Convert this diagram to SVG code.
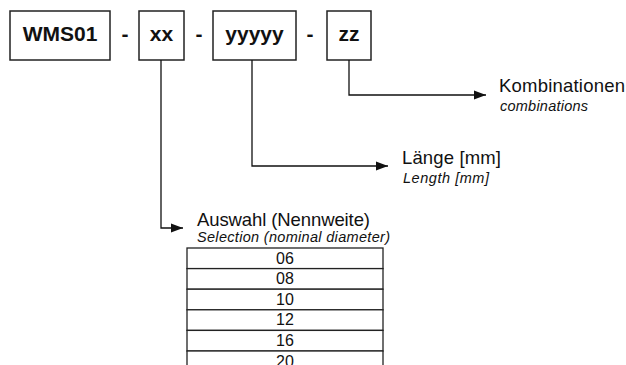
<svg xmlns="http://www.w3.org/2000/svg" width="626" height="365" viewBox="0 0 626 365">
  <defs>
    <marker id="arrow" markerWidth="12" markerHeight="10" refX="12" refY="5" orient="auto" markerUnits="userSpaceOnUse">
      <path d="M0,0.5 L12,5 L0,9.5 Z" fill="#111"/>
    </marker>
    <style>
      .box { fill: #fff; stroke: #222; stroke-width: 1.5; }
      .code { font-family: "Liberation Sans", Arial, sans-serif; font-weight: bold; font-size: 21px; fill: #111; text-anchor: middle; }
      .lbl { font-family: "Liberation Sans", Arial, sans-serif; font-size: 18.5px; fill: #111; }
      .sub { font-family: "Liberation Sans", Arial, sans-serif; font-size: 14.5px; font-style: italic; fill: #111; }
      .conn { fill: none; stroke: #111; stroke-width: 1.3; }
      .cell { fill: #fff; stroke: #222; stroke-width: 1.3; }
      .num { font-family: "Liberation Sans", Arial, sans-serif; font-size: 16px; fill: #111; text-anchor: middle; }
    </style>
  </defs>
  <rect width="626" height="365" fill="#fff"/>

  <g id="node-wms01">
    <rect class="box" x="10" y="11" width="100" height="49"/>
    <text class="code" x="60" y="41">WMS01</text>
  </g>
  <g id="dash1"><text class="code" x="125" y="41">-</text></g>
  <g id="node-xx">
    <rect class="box" x="139" y="11" width="45" height="49"/>
    <text class="code" x="161.5" y="41">xx</text>
  </g>
  <g id="dash2"><text class="code" x="199" y="41">-</text></g>
  <g id="node-yyyyy">
    <rect class="box" x="213" y="11" width="83" height="49"/>
    <text class="code" x="254.5" y="41">yyyyy</text>
  </g>
  <g id="dash3"><text class="code" x="310" y="41">-</text></g>
  <g id="node-zz">
    <rect class="box" x="327" y="11" width="44" height="49"/>
    <text class="code" x="349" y="41">zz</text>
  </g>

  <g id="connectors">
    <path class="conn" d="M349,60 V95 H486" marker-end="url(#arrow)"/>
    <path class="conn" d="M252,60 V166 H388" marker-end="url(#arrow)"/>
    <path class="conn" d="M161,60 V228 H183" marker-end="url(#arrow)"/>
  </g>

  <g id="node-kombinationen">
    <text class="lbl" x="499" y="92" textLength="126" lengthAdjust="spacing">Kombinationen</text>
    <text class="sub" x="500" y="111" textLength="88" lengthAdjust="spacing">combinations</text>
  </g>
  <g id="node-laenge">
    <text class="lbl" x="402" y="164" textLength="99" lengthAdjust="spacing">Länge [mm]</text>
    <text class="sub" x="403" y="183" textLength="86" lengthAdjust="spacing">Length [mm]</text>
  </g>
  <g id="node-auswahl">
    <text class="lbl" x="197" y="226" textLength="173" lengthAdjust="spacing">Auswahl (Nennweite)</text>
    <text class="sub" x="197" y="242" textLength="193" lengthAdjust="spacing">Selection (nominal diameter)</text>
    <rect class="cell" x="187" y="248" width="196" height="20.6"/>
    <text class="num" x="285" y="263.5">06</text>
    <rect class="cell" x="187" y="268.6" width="196" height="20.6"/>
    <text class="num" x="285" y="284.1">08</text>
    <rect class="cell" x="187" y="289.2" width="196" height="20.6"/>
    <text class="num" x="285" y="304.7">10</text>
    <rect class="cell" x="187" y="309.8" width="196" height="20.6"/>
    <text class="num" x="285" y="325.3">12</text>
    <rect class="cell" x="187" y="330.4" width="196" height="20.6"/>
    <text class="num" x="285" y="345.9">16</text>
    <rect class="cell" x="187" y="351" width="196" height="20.6"/>
    <text class="num" x="285" y="366.5">20</text>
  </g>
</svg>
